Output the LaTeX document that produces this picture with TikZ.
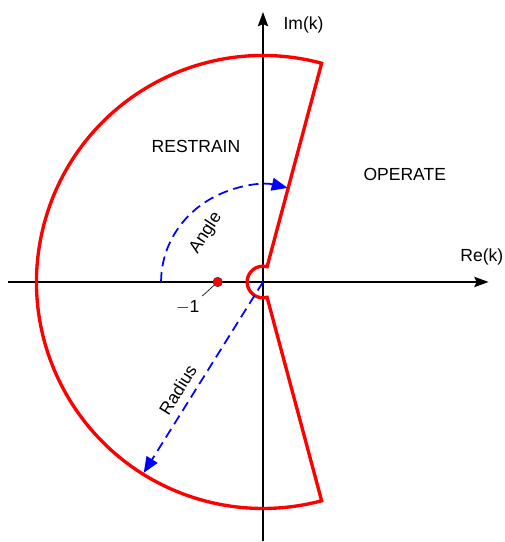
\documentclass[tikz,border=0pt]{standalone}
\usepackage{fontspec}
\setmainfont{Liberation Sans}
\usepackage{xcolor}
\definecolor{relayred}{RGB}{255, 0, 0}
\definecolor{guideblue}{RGB}{0, 0, 255}
\usepackage{tikz}
\usetikzlibrary{arrows.meta, calc, positioning}

\begin{document}
\begin{tikzpicture}[>={Stealth[length=9pt, width=6.5pt, inset=1.5pt]},
    font=\fontsize{11}{13}\selectfont,
    axis/.style={line width=0.9pt, ->},
    zone/.style={line width=2.1pt, color=relayred, line join=miter},
    guide/.style={line width=1.1pt, color=guideblue, dash pattern=on 6.3pt off 3.6pt}]
  \useasboundingbox (-5.806,-5.74) rectangle (5.342,6.225);
  % axes
  \coordinate (O) at (0,0);
  \coordinate (xl) at (-5.63,0);
  \coordinate (xr) at (4.98,0);
  \coordinate (yb) at (0,-5.72);
  \coordinate (yt) at (0,5.96);
  \draw[axis] (xl) -- (xr);
  \draw[axis] (yb) -- (yt);
  \node[anchor=west] (im) at (0.33,5.67) {Im(k)};
  \node (re) at (4.83,0.55) {Re(k)};
  % restrain characteristic
  \coordinate (top) at (75:5);
  \draw[zone] (top) arc[start angle=75, end angle=285, radius=5]
    -- (285:0.35) arc[start angle=285, end angle=75, radius=0.35] -- cycle;
  \node (restrain) at (-1.48,3.0) {RESTRAIN};
  \node (operate) at (3.13,2.38) {OPERATE};
  % guides
  \coordinate (a0) at (-2.25,0);
  \coordinate (rim) at (238:4.97);
  \draw[guide, ->, >={Triangle[length=10pt, width=8pt]}] (a0)
    arc[start angle=180, end angle=76, x radius=2.25, y radius=2.14];
  \draw[guide, ->, >={Triangle[length=10pt, width=8pt]}] (O) -- (rim);
  \node[rotate=57] (angle) at (-1.26,1.08) {Angle};
  \node[rotate=58] (radius) at (-1.88,-2.38) {Radius};
  % the -1 point
  \node[circle, fill=relayred, draw=black!80, line width=0.3pt,
    inner sep=0pt, minimum size=0.21cm] (m1) at (-1,0) {};
  \node (m1lbl) at (-1.66,-0.55) {$-$1};
  \draw[line width=0.4pt] (m1) -- (-1.34,-0.31);
\end{tikzpicture}
\end{document}
